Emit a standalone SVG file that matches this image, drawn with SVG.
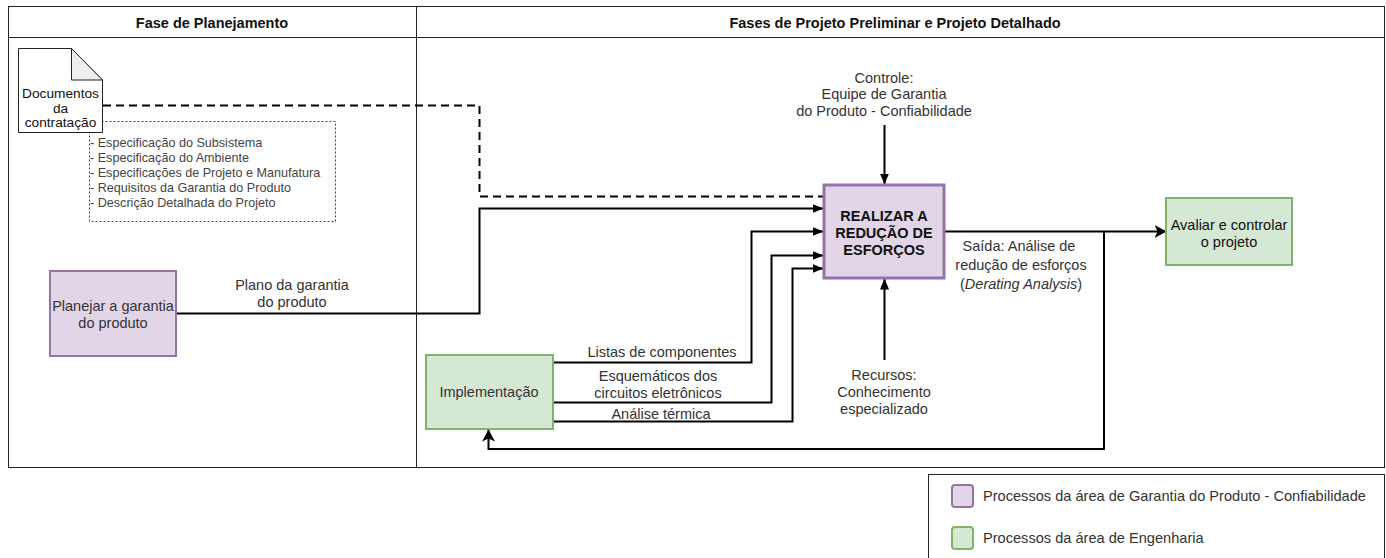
<svg xmlns="http://www.w3.org/2000/svg" width="1386" height="558" viewBox="0 0 1386 558">
<style>
text{font-family:"Liberation Sans",Arial,sans-serif;font-size:14.5px;fill:#333;text-anchor:middle}
.h{font-weight:bold;fill:#111}
.k{fill:#111}
.dc{font-size:13.7px}
.l{text-anchor:start}
.n{font-size:12.6px;fill:#444}
.frame{fill:none;stroke:#222;stroke-width:1}
.pu{fill:#e1d5e7;stroke:#9673a6;stroke-width:2}
.gr{fill:#d5e8d4;stroke:#82b366;stroke-width:2}
.c{fill:none;stroke:#000;stroke-width:2}
.d{stroke-dasharray:8 5}
</style>
<defs>
<marker id="a" markerUnits="userSpaceOnUse" markerWidth="11" markerHeight="9" refX="10.500" refY="4.500" orient="auto"><path d="M0 0L11 4.500L0 9z" fill="#000"/></marker>
<marker id="b" markerUnits="userSpaceOnUse" markerWidth="12" markerHeight="13" refX="11.500" refY="6.500" orient="auto"><path d="M0 0L12 6.500L0 13L3 6.500z" fill="#000"/></marker>
</defs>
<rect width="1386" height="558" fill="#fff"/>
<g id="frame">
<rect class="frame" x="8.500" y="6.500" width="1376" height="461"/>
<path class="frame" d="M8.500 37.500H1384.500M416.500 6.500V467.500"/>
<text class="h" x="212" y="28">Fase de Planejamento</text>
<text class="h" x="895" y="28">Fases de Projeto Preliminar e Projeto Detalhado</text>
</g>
<g id="connectors">
<path class="c d" d="M103 105.500H479.500V196.500H823"/>
<path class="c" marker-end="url(#a)" d="M176 313.500H479.500V208.500H823"/>
<path class="c" marker-end="url(#a)" d="M553 362.500H751.500V231.500H823"/>
<path class="c" marker-end="url(#a)" d="M553 402.500H771.500V255.500H823"/>
<path class="c" marker-end="url(#a)" d="M553 421.500H792.500V268.500H823"/>
<path class="c" marker-end="url(#a)" d="M884.500 125V184"/>
<path class="c" marker-end="url(#a)" d="M884.500 360V279"/>
<path class="c" marker-end="url(#b)" d="M945 231.500H1166"/>
<path class="c" marker-end="url(#b)" d="M1104 232V449H488.500V430"/>
</g>
<g id="doc-notes">
<rect x="89.500" y="121.500" width="246" height="100" fill="#fff" stroke="#444" stroke-dasharray="2 2"/>
<text class="l n" x="90" y="147">- Especificação do Subsistema</text>
<text class="l n" x="90" y="162">- Especificação do Ambiente</text>
<text class="l n" x="90" y="177">- Especificações de Projeto e Manufatura</text>
<text class="l n" x="90" y="192">- Requisitos da Garantia do Produto</text>
<text class="l n" x="90" y="207">- Descrição Detalhada do Projeto</text>
</g>
<g id="documentos">
<path d="M18.500 48.500H71.500L102.500 80V132.500H18.500z" fill="#fff" stroke="#222"/>
<path d="M71.500 48.500V80H102.500z" fill="#eee" stroke="#222"/>
<text class="k dc" x="60.500" y="98">Documentos</text>
<text class="k dc" x="60.500" y="113">da</text>
<text class="k dc" x="60.500" y="127">contratação</text>
</g>
<g id="planejar">
<rect class="pu" x="50" y="271" width="126" height="85"/>
<text x="113" y="311">Planejar a garantia</text>
<text x="113" y="328">do produto</text>
</g>
<g id="realizar">
<rect class="pu" style="stroke-width:3" x="824" y="185" width="120" height="93"/>
<text class="h" x="884" y="221">REALIZAR A</text>
<text class="h" x="884" y="238">REDUÇÃO DE</text>
<text class="h" x="884" y="255">ESFORÇOS</text>
</g>
<g id="implementacao">
<rect class="gr" x="426" y="355" width="127" height="74"/>
<text x="489" y="397">Implementação</text>
</g>
<g id="avaliar">
<rect class="gr" x="1166" y="198" width="126" height="67"/>
<text class="k" x="1229" y="230">Avaliar e controlar</text>
<text class="k" x="1229" y="247">o projeto</text>
</g>
<g id="labels">
<text x="884" y="83">Controle:</text>
<text x="884" y="99">Equipe de Garantia</text>
<text x="884" y="116">do Produto - Confiabilidade</text>
<text x="292" y="290">Plano da garantia</text>
<text x="292" y="307">do produto</text>
<text x="662" y="357">Listas de componentes</text>
<text x="658" y="381">Esquemáticos dos</text>
<text x="658" y="398">circuitos eletrônicos</text>
<text x="661" y="419">Análise térmica</text>
<text x="884" y="380">Recursos:</text>
<text x="884" y="397">Conhecimento</text>
<text x="884" y="414">especializado</text>
<text x="1019" y="251">Saída: Análise de</text>
<text x="1021" y="270">redução de esforços</text>
<text x="1021" y="289">(<tspan font-style="italic">Derating Analysis</tspan>)</text>
</g>
<g id="legend">
<rect class="frame" x="928.500" y="474.500" width="456" height="90"/>
<rect class="pu" x="952" y="485" width="21" height="22" rx="3"/>
<rect class="gr" x="952" y="527" width="21" height="22" rx="3"/>
<text class="l" style="font-size:14.6px" x="983" y="501">Processos da área de Garantia do Produto - Confiabilidade</text>
<text class="l" style="font-size:14.6px" x="983" y="543">Processos da área de Engenharia</text>
</g>
</svg>
